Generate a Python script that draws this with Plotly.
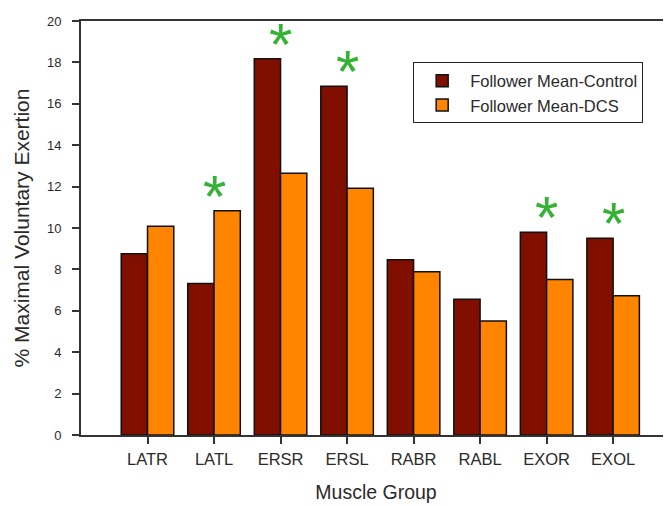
import plotly.graph_objects as go

categories = ["LATR", "LATL", "ERSR", "ERSL", "RABR", "RABL", "EXOR", "EXOL"]
control = [8.76, 7.32, 18.18, 16.85, 8.47, 6.56, 9.80, 9.50]
dcs = [10.09, 10.83, 12.65, 11.92, 7.89, 5.51, 7.51, 6.73]
significant = ["LATL", "ERSR", "ERSL", "EXOR", "EXOL"]
y_ticks = [0, 2, 4, 6, 8, 10, 12, 14, 16, 18, 20]

FONT = "Liberation Sans, Arial, sans-serif"
TXT = "#2a2a2a"
AX = "#333333"

fig = go.Figure()
fig.add_trace(go.Bar(x=categories, y=control, name="Follower Mean-Control",
                     marker=dict(color="#800f00", line=dict(color="#111111", width=1.5))))
fig.add_trace(go.Bar(x=categories, y=dcs, name="Follower Mean-DCS",
                     marker=dict(color="#ff8400", line=dict(color="#111111", width=1.5))))

for c in significant:
    i = categories.index(c)
    top = max(control[i], dcs[i])
    fig.add_annotation(x=c, y=top + 0.85, text="*", showarrow=False,
                       font=dict(family=FONT, size=60, color="#33b233"),
                       xanchor="center", yanchor="middle", yshift=-3)

fig.update_layout(
    width=671, height=506,
    margin=dict(l=73, r=8, t=6, b=79),
    paper_bgcolor="white", plot_bgcolor="white",
    barmode="group", bargap=0.21, bargroupgap=0,
    font=dict(family=FONT, color=TXT),
    showlegend=True,
    legend=dict(x=0.563, y=0.9, xanchor="left", yanchor="top",
                bordercolor="#222222", borderwidth=1, bgcolor="white",
                font=dict(size=16.5, color=TXT), traceorder="normal",
                itemwidth=46),
    xaxis=dict(range=[-1, 7.87], showline=True, linecolor=AX, linewidth=2,
               mirror=True, ticks="outside", ticklen=7, tickcolor=AX, tickwidth=1.5,
               tickfont=dict(size=16.5, color=TXT), showgrid=False, zeroline=False,
               ticklabelstandoff=1,
               title=dict(text="Muscle Group", font=dict(size=19.5, color=TXT), standoff=19)),
    yaxis=dict(range=[0, 20], tickvals=y_ticks, showline=True, linecolor=AX, linewidth=2,
               ticks="outside", ticklen=7, tickcolor=AX, tickwidth=1.5,
               tickfont=dict(size=13, color=TXT), showgrid=False, zeroline=False,
               ticklabelstandoff=8,
               title=dict(text="% Maximal Voluntary Exertion", font=dict(size=21, color=TXT), standoff=12)),
)

fig.write_html("out.html")
